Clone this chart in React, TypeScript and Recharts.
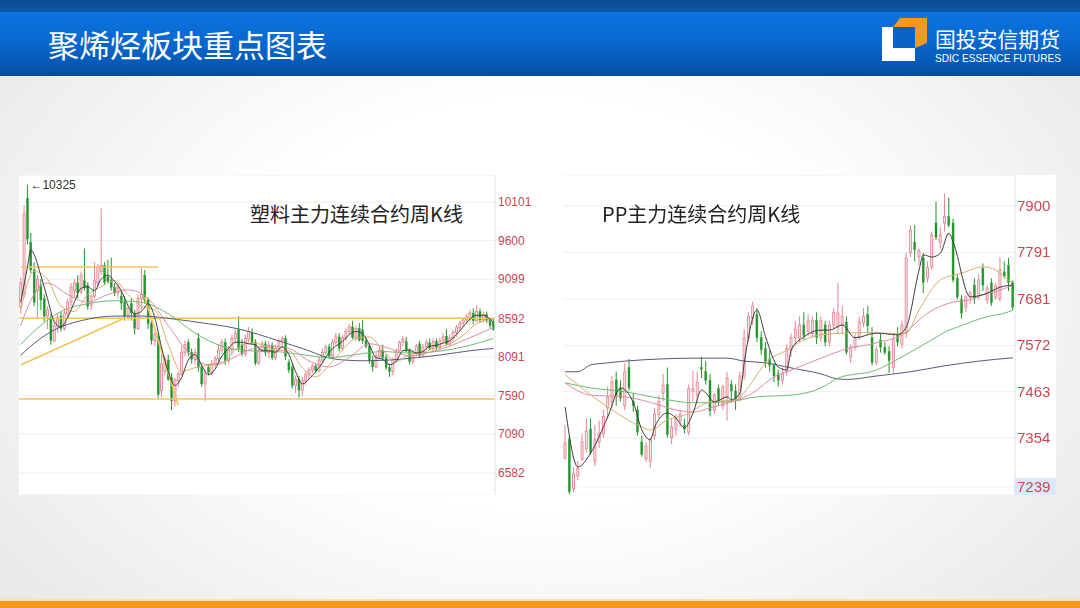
import React from "react";
import {
  Bar,
  CartesianGrid,
  ComposedChart,
  Line,
  ReferenceDot,
  ReferenceLine,
  XAxis,
  YAxis,
} from "recharts";

// [open, high, low, close]
type K = [number, number, number, number];
type Pt = [number, number];

const plasticK: K[] = [
  [8740, 9120, 8650, 9050], [8900, 10060, 8860, 9950], [10150, 10325, 9550, 9620], [9580, 9700, 9180, 9220],
  [9220, 9320, 8750, 8800], [8950, 9150, 8600, 9100], [9020, 9100, 8700, 8830], [8850, 8900, 8550, 8620],
  [8620, 8750, 8450, 8700], [8600, 8650, 8250, 8300], [8300, 8550, 8280, 8500], [8480, 8650, 8400, 8600],
  [8620, 8680, 8420, 8460], [8460, 8700, 8430, 8650], [8650, 8850, 8600, 8800], [8800, 9050, 8750, 9000],
  [8950, 9100, 8850, 9050], [9050, 9150, 8850, 8930], [8930, 9200, 8900, 9150], [9080, 9500, 8950, 8990],
  [9020, 9060, 8700, 8750], [8760, 8900, 8700, 8880], [8880, 9320, 8850, 9080], [9050, 9300, 9000, 9250],
  [9200, 10020, 9150, 9280], [9280, 9320, 9030, 9060], [9130, 9350, 9050, 9070], [9090, 9380, 8950, 8990],
  [8990, 9050, 8880, 8920], [8920, 9050, 8850, 9000], [8880, 8950, 8700, 8790], [8800, 8880, 8560, 8620],
  [8620, 8760, 8560, 8720], [8780, 8850, 8560, 8660], [8660, 8700, 8380, 8460], [8460, 8900, 8440, 8850],
  [8850, 9245, 8700, 8900], [9150, 9220, 8780, 8830], [8830, 8860, 8450, 8520], [8520, 8560, 8250, 8300],
  [8300, 8420, 8230, 8380], [8350, 8400, 7550, 7600], [7650, 8120, 7560, 8000], [7900, 8100, 7850, 8050],
  [8050, 8120, 7780, 7800], [7820, 7880, 7400, 7520], [7520, 7820, 7450, 7790], [7780, 7900, 7700, 7870],
  [7870, 8230, 7850, 8150], [8150, 8300, 8100, 8250], [8280, 8320, 8100, 8150], [8150, 8200, 8000, 8060],
  [8060, 8200, 7990, 8150], [8330, 8400, 7900, 7950], [7950, 8000, 7700, 7740], [7740, 7920, 7520, 7880],
  [7950, 8000, 7850, 7890], [7880, 8050, 7850, 8000], [7990, 8100, 7950, 8070], [8070, 8250, 8020, 8180],
  [8180, 8320, 8130, 8280], [8280, 8330, 7990, 8040], [8040, 8230, 8000, 8180], [8180, 8380, 8120, 8330],
  [8330, 8450, 8260, 8400], [8440, 8620, 8150, 8200], [8250, 8320, 8100, 8130], [8130, 8380, 8100, 8330],
  [8320, 8480, 8280, 8420], [8400, 8460, 8250, 8280], [8280, 8320, 7980, 8010], [8010, 8220, 7980, 8180],
  [8180, 8300, 8150, 8260], [8260, 8300, 8100, 8150], [8150, 8300, 8080, 8240], [8240, 8280, 8050, 8080],
  [8080, 8250, 8050, 8200], [8200, 8330, 8170, 8300], [8300, 8360, 8230, 8330], [8330, 8370, 8050, 8100],
  [8020, 8060, 7880, 7920], [7950, 8000, 7680, 7720], [7720, 7850, 7620, 7800], [7800, 7840, 7560, 7660],
  [7660, 7830, 7580, 7780], [7780, 7900, 7720, 7860], [7860, 7960, 7800, 7920], [7920, 8000, 7880, 7970],
  [7970, 8000, 7880, 7910], [7910, 8090, 7890, 8050], [8050, 8200, 8020, 8150], [8150, 8250, 8120, 8220],
  [8220, 8260, 8080, 8100], [8100, 8320, 8080, 8280], [8280, 8400, 8240, 8350], [8350, 8400, 8160, 8200],
  [8200, 8380, 8170, 8340], [8340, 8460, 8300, 8420], [8420, 8520, 8380, 8480], [8480, 8560, 8320, 8340],
  [8340, 8500, 8300, 8460], [8460, 8530, 8290, 8310], [8440, 8570, 8260, 8300], [8300, 8340, 8200, 8230],
  [8230, 8260, 8000, 8040], [8040, 8100, 7900, 7960], [7960, 8140, 7940, 8100], [8100, 8220, 8060, 8180],
  [8180, 8250, 8050, 8080], [8080, 8120, 7920, 7950], [7950, 8000, 7830, 7900], [7900, 8080, 7850, 8050],
  [8050, 8200, 8020, 8170], [8170, 8300, 8140, 8280], [8280, 8360, 8230, 8320], [8290, 8350, 8150, 8170],
  [8170, 8200, 7990, 8030], [8030, 8180, 8000, 8140], [8140, 8260, 8100, 8230], [8260, 8300, 8080, 8110],
  [8110, 8260, 8080, 8220], [8220, 8320, 8180, 8280], [8270, 8330, 8180, 8200], [8200, 8330, 8160, 8290],
  [8290, 8330, 8170, 8210], [8210, 8340, 8180, 8300], [8300, 8400, 8260, 8350], [8360, 8450, 8240, 8260],
  [8260, 8380, 8230, 8340], [8340, 8440, 8300, 8410], [8410, 8500, 8350, 8470], [8470, 8560, 8430, 8530],
  [8530, 8600, 8480, 8570], [8570, 8650, 8520, 8610], [8580, 8700, 8550, 8660], [8660, 8720, 8520, 8560],
  [8560, 8760, 8540, 8680], [8680, 8720, 8530, 8570], [8570, 8680, 8540, 8640], [8640, 8680, 8530, 8560],
  [8560, 8600, 8460, 8500], [8540, 8580, 8430, 8450],
];

const plasticTicks = [6582, 7090, 7590, 8091, 8592, 9099, 9600, 10101];

// moving averages read at sample weeks: [week index, price]
const plasticMa5: Pt[] = [
  [0, 8800], [2, 9250], [3, 9480], [4, 9420], [6, 9150], [8, 8850], [10, 8550], [12, 8480], [14, 8600],
  [16, 8800], [18, 8980], [20, 9000], [22, 8950], [24, 9100], [26, 9150], [28, 9070], [30, 8950], [32, 8760],
  [34, 8650], [36, 8680], [38, 8780], [40, 8600], [42, 8220], [44, 7900], [46, 7720], [48, 7820], [50, 8050],
  [52, 8120], [54, 7980], [56, 7860], [58, 7930], [60, 8100], [62, 8200], [64, 8280], [66, 8280], [68, 8260],
  [70, 8250], [72, 8170], [74, 8170], [76, 8150], [78, 8220], [80, 8120], [82, 7900], [84, 7740], [86, 7800],
  [88, 7900], [90, 8010], [92, 8150], [94, 8230], [96, 8290], [98, 8380], [100, 8420], [102, 8390], [104, 8250],
  [106, 8080], [108, 8060], [110, 7990], [112, 8030], [114, 8170], [116, 8180], [118, 8140], [120, 8160],
  [122, 8230], [124, 8240], [126, 8270], [128, 8300], [130, 8380], [132, 8480], [134, 8580], [136, 8630],
  [138, 8630], [140, 8580], [141, 8540],
];
const plasticMa10: Pt[] = [
  [0, 8700], [4, 9200], [8, 9100], [12, 8750], [16, 8680], [20, 8900], [24, 9000], [28, 9080], [32, 8900],
  [36, 8750], [40, 8700], [44, 8250], [48, 7900], [52, 7950], [56, 7980], [60, 8000], [64, 8180], [68, 8270],
  [72, 8250], [76, 8180], [80, 8170], [84, 7950], [88, 7830], [92, 7980], [96, 8180], [100, 8330], [104, 8350],
  [108, 8180], [112, 8030], [116, 8120], [120, 8150], [124, 8210], [128, 8260], [132, 8370], [136, 8520], [141, 8580],
];
const plasticMa20: Pt[] = [
  [0, 8500], [4, 8900], [8, 9050], [14, 8900], [20, 8800], [26, 8900], [32, 8960], [38, 8850], [44, 8500],
  [50, 8150], [56, 7990], [62, 8050], [68, 8180], [74, 8230], [80, 8200], [86, 8040], [92, 7960], [98, 8080],
  [104, 8260], [110, 8200], [116, 8100], [122, 8150], [128, 8230], [134, 8340], [141, 8470],
];
const plasticMa40: Pt[] = [
  [0, 8250], [6, 8500], [12, 8680], [20, 8780], [28, 8820], [36, 8800], [44, 8650], [52, 8400], [60, 8230],
  [68, 8170], [76, 8160], [84, 8120], [92, 8080], [100, 8120], [108, 8160], [116, 8140], [124, 8160],
  [132, 8220], [141, 8330],
];
const plasticMa60: Pt[] = [
  [0, 8110], [5, 8300], [10, 8440], [18, 8560], [28, 8620], [36, 8620], [46, 8580], [56, 8520], [62, 8480],
  [68, 8420], [74, 8340], [84, 8200], [94, 8060], [102, 8040], [110, 8050], [118, 8080], [126, 8120],
  [134, 8170], [141, 8200],
];

// hand-drawn support / resistance lines: [week, price] pairs
const plasticLines: [Pt, Pt][] = [
  [[0, 9257], [41, 9257]],
  [[0, 7984], [31, 8595]],
  [[37, 8867], [47, 7465]],
];
const plasticLevels = [8592, 7543];

const ppK: K[] = [
  [7307, 7385, 7303, 7343], [7350, 7360, 7222, 7228], [7235, 7285, 7226, 7270], [7265, 7300, 7255, 7282],
  [7305, 7365, 7300, 7345], [7330, 7400, 7320, 7370], [7375, 7400, 7315, 7320], [7300, 7385, 7288, 7350],
  [7345, 7395, 7330, 7365], [7365, 7420, 7355, 7405], [7425, 7475, 7400, 7450], [7440, 7500, 7425, 7486],
  [7491, 7510, 7430, 7455], [7470, 7490, 7440, 7448], [7430, 7530, 7420, 7510], [7520, 7540, 7465, 7472],
  [7440, 7460, 7415, 7430], [7420, 7430, 7360, 7368], [7345, 7360, 7310, 7316], [7305, 7345, 7298, 7335],
  [7300, 7355, 7284, 7350], [7360, 7425, 7350, 7410], [7410, 7455, 7400, 7440], [7460, 7505, 7440, 7478],
  [7480, 7520, 7355, 7362], [7355, 7400, 7340, 7380], [7375, 7410, 7360, 7400], [7395, 7420, 7380, 7410],
  [7385, 7400, 7365, 7375], [7368, 7480, 7360, 7470], [7465, 7512, 7440, 7470], [7455, 7510, 7440, 7485],
  [7520, 7545, 7495, 7515], [7510, 7535, 7480, 7490], [7490, 7505, 7405, 7418], [7420, 7460, 7410, 7455],
  [7470, 7480, 7430, 7440], [7430, 7480, 7420, 7475], [7450, 7510, 7395, 7495], [7480, 7490, 7440, 7465],
  [7465, 7480, 7420, 7445], [7445, 7510, 7440, 7500], [7500, 7610, 7490, 7590], [7590, 7650, 7580, 7640],
  [7635, 7675, 7620, 7665], [7645, 7660, 7580, 7590], [7590, 7605, 7550, 7562], [7565, 7580, 7520, 7535],
  [7540, 7560, 7510, 7525], [7525, 7530, 7485, 7500], [7505, 7515, 7475, 7490], [7490, 7520, 7480, 7505],
  [7510, 7575, 7500, 7565], [7560, 7600, 7545, 7590], [7590, 7630, 7575, 7610], [7590, 7640, 7580, 7620],
  [7620, 7650, 7585, 7595], [7605, 7645, 7595, 7630], [7600, 7640, 7590, 7630], [7630, 7650, 7575, 7590],
  [7590, 7640, 7580, 7630], [7620, 7630, 7570, 7580], [7580, 7630, 7570, 7620], [7620, 7660, 7610, 7650],
  [7615, 7719, 7600, 7648], [7620, 7665, 7600, 7640], [7627, 7640, 7550, 7556], [7545, 7575, 7530, 7568],
  [7568, 7600, 7560, 7590], [7592, 7640, 7585, 7627], [7625, 7660, 7615, 7640], [7645, 7665, 7600, 7618],
  [7590, 7615, 7525, 7532], [7532, 7570, 7525, 7562], [7585, 7600, 7555, 7568], [7568, 7580, 7550, 7555],
  [7558, 7570, 7507, 7536], [7521, 7600, 7505, 7585], [7595, 7615, 7570, 7580], [7575, 7630, 7565, 7620],
  [7601, 7790, 7590, 7778], [7790, 7855, 7780, 7843], [7815, 7855, 7770, 7797], [7780, 7800, 7760, 7795],
  [7778, 7790, 7695, 7720], [7730, 7770, 7720, 7755], [7757, 7840, 7750, 7832], [7860, 7910, 7820, 7827],
  [7815, 7850, 7800, 7832], [7860, 7930, 7840, 7875], [7875, 7920, 7850, 7855], [7860, 7870, 7720, 7726],
  [7730, 7740, 7680, 7686], [7680, 7690, 7635, 7648], [7662, 7690, 7650, 7686], [7686, 7700, 7670, 7695],
  [7714, 7730, 7670, 7683], [7690, 7740, 7680, 7726], [7754, 7765, 7700, 7714], [7679, 7715, 7670, 7707],
  [7719, 7730, 7665, 7672], [7686, 7720, 7680, 7712], [7682, 7780, 7675, 7750], [7745, 7770, 7730, 7735],
  [7760, 7778, 7700, 7720], [7720, 7725, 7655, 7662],
];

const ppTicks = [7239, 7354, 7463, 7572, 7681, 7791, 7900];

const ppMa5: Pt[] = [
  [0, 7427], [3, 7286], [6, 7319], [10, 7404], [13, 7472], [16, 7437], [18, 7373], [20, 7350], [21, 7380],
  [24, 7413], [26, 7401], [28, 7378], [30, 7413], [32, 7467], [33, 7460], [35, 7439], [38, 7451], [39, 7444],
  [41, 7460], [42, 7531], [45, 7655], [47, 7592], [50, 7521], [52, 7514], [53, 7561], [56, 7592], [60, 7608],
  [62, 7608], [65, 7620], [68, 7590], [73, 7601], [78, 7597], [80, 7615], [83, 7749], [84, 7785], [86, 7780],
  [88, 7789], [90, 7836], [91, 7815], [95, 7686], [99, 7695], [102, 7709], [105, 7714],
];
const ppMa10: Pt[] = [
  [0, 7503], [10, 7427], [18, 7380], [20, 7373], [24, 7397], [28, 7408], [34, 7439], [40, 7444], [43, 7474],
  [47, 7531], [52, 7561], [56, 7585], [60, 7597], [70, 7602], [78, 7600], [80, 7601], [83, 7655], [88, 7726],
  [93, 7742], [98, 7757], [101, 7749], [104, 7726], [105, 7720],
];
const ppMa20: Pt[] = [
  [0, 7484], [6, 7455], [14, 7451], [22, 7432], [26, 7420], [30, 7415], [34, 7425], [39, 7439], [44, 7460],
  [49, 7498], [53, 7514], [60, 7542], [65, 7561], [73, 7578], [79, 7597], [85, 7648], [91, 7674], [95, 7679],
  [98, 7691], [102, 7702], [105, 7714],
];
const ppMa40: Pt[] = [
  [0, 7484], [6, 7472], [14, 7463], [22, 7448], [30, 7437], [38, 7439], [45, 7451], [53, 7455], [60, 7472],
  [64, 7495], [73, 7514], [79, 7545], [86, 7585], [90, 7608], [92, 7615], [98, 7637], [104, 7651], [105, 7655],
];
const ppMa60: Pt[] = [
  [0, 7510], [3, 7510], [6, 7526], [10, 7531], [14, 7535], [22, 7540], [30, 7542], [38, 7542], [42, 7535],
  [47, 7531], [53, 7519], [60, 7505], [64, 7493], [66, 7492], [73, 7500], [81, 7510], [89, 7524], [97, 7535],
  [105, 7543],
];

const UP = "#e58592";
const UP_FILL = "#fde9ed";
const DOWN = "#22952c";
const TICK_RED = "#c9474f";
const MA_COLORS = {
  ma5: "#3d3d3d",
  ma10: "#d9ae6c",
  ma20: "#e08aa8",
  ma40: "#6dbd70",
  ma60: "#55597c",
};

function buildRows(k: K[], mas: Record<string, Pt[]>) {
  return k.map(([o, h, l, c], i) => {
    const row: any = { i, o, h, l, c, range: [l, h] };
    for (const key of Object.keys(mas)) {
      const p = mas[key].find((d) => d[0] === i);
      row[key] = p ? p[1] : null;
    }
    return row;
  });
}

const Candle = (props: any) => {
  const { x, width, payload } = props;
  let { y, height } = props;
  if (!payload || height == null) return <g />;
  if (height < 0) {
    y += height;
    height = -height;
  }
  const { o, h, l, c } = payload;
  const ratio = height / Math.max(h - l, 1);
  const py = (v: number) => y + (h - v) * ratio;
  const up = c >= o;
  const cx = x + width / 2;
  const top = py(Math.max(o, c));
  const bot = py(Math.min(o, c));
  const color = up ? UP : DOWN;
  return (
    <g>
      <line x1={cx} x2={cx} y1={y} y2={top} stroke={color} strokeWidth={1} />
      <line x1={cx} x2={cx} y1={bot} y2={y + height} stroke={color} strokeWidth={1} />
      <rect
        x={x}
        y={top}
        width={width}
        height={Math.max(bot - top, 1)}
        fill={up ? UP_FILL : DOWN}
        stroke={color}
        strokeWidth={up ? 0.9 : 0.4}
      />
    </g>
  );
};

const maLines = (keys: string[]) =>
  keys.map((key) => (
    <Line
      key={key}
      dataKey={key}
      type="monotone"
      stroke={(MA_COLORS as any)[key]}
      strokeWidth={1}
      dot={false}
      connectNulls
      isAnimationActive={false}
    />
  ));

const PpTick = (props: any) => {
  const { x, y, payload } = props;
  const low = payload.value === ppTicks[0];
  return (
    <g>
      {low && <rect x={x - 1} y={y - 9} width={42} height={17} fill="#dce8f7" />}
      <text
        x={x + 2}
        y={y}
        dy={5}
        fill={TICK_RED}
        fontSize={15}
        fontFamily="'Liberation Sans', Arial, sans-serif"
      >
        {payload.value}
      </text>
    </g>
  );
};

function PlasticChart() {
  const rows = buildRows(plasticK, {
    ma5: plasticMa5,
    ma10: plasticMa10,
    ma20: plasticMa20,
    ma40: plasticMa40,
    ma60: plasticMa60,
  });
  return (
    <ComposedChart
      width={521}
      height={320}
      data={rows}
      margin={{ top: 0, right: 0, bottom: 0, left: 0 }}
      barCategoryGap="22%"
    >
      <CartesianGrid vertical={false} stroke="#eeeeee" />
      <XAxis dataKey="i" type="category" hide />
      <YAxis
        orientation="right"
        type="number"
        domain={[6297, 10452]}
        allowDataOverflow
        ticks={plasticTicks}
        interval={0}
        width={45}
        tickLine={false}
        tickSize={0}
        tickMargin={3}
        axisLine={{ stroke: "#e2e2e2" }}
        tick={{ fill: TICK_RED, fontSize: 12, fontFamily: "'Liberation Sans', Arial, sans-serif" }}
      />
      {plasticLevels.map((v) => (
        <ReferenceLine key={v} y={v} stroke="#f2c458" strokeWidth={1.6} />
      ))}
      {plasticLines.map(([a, b], n) => (
        <ReferenceLine
          key={n}
          segment={[
            { x: a[0], y: a[1] },
            { x: b[0], y: b[1] },
          ]}
          stroke="#f2c458"
          strokeWidth={1.6}
        />
      ))}
      {maLines(["ma60", "ma40", "ma20", "ma10", "ma5"])}
      <Bar dataKey="range" shape={Candle} isAnimationActive={false} />
      <ReferenceDot
        x={2}
        y={10325}
        r={0}
        label={{
          value: "←10325",
          position: "right",
          offset: 3,
          fill: "#333",
          fontSize: 12,
          fontFamily: "'Liberation Sans', Arial, sans-serif",
        }}
      />
    </ComposedChart>
  );
}

function PpChart() {
  const rows = buildRows(ppK, {
    ma5: ppMa5,
    ma10: ppMa10,
    ma20: ppMa20,
    ma40: ppMa40,
    ma60: ppMa60,
  });
  return (
    <ComposedChart
      width={493}
      height={320}
      data={rows}
      margin={{ top: 0, right: 0, bottom: 0, left: 0 }}
      barCategoryGap="24%"
    >
      <CartesianGrid vertical={false} stroke="#eeeeee" />
      <XAxis dataKey="i" type="category" hide />
      <YAxis
        orientation="right"
        type="number"
        domain={[7220, 7973]}
        allowDataOverflow
        ticks={ppTicks}
        interval={0}
        width={41}
        tickLine={false}
        tickSize={0}
        tickMargin={0}
        axisLine={{ stroke: "#e2e2e2" }}
        tick={<PpTick />}
      />
      {maLines(["ma60", "ma40", "ma20", "ma10", "ma5"])}
      <Bar dataKey="range" shape={Candle} isAnimationActive={false} />
    </ComposedChart>
  );
}

const cjk = "'Noto Sans CJK SC', 'Noto Sans', sans-serif";

export default function App() {
  return (
    <div
      style={{
        position: "fixed",
        left: 0,
        top: 0,
        width: 1080,
        height: 608,
        overflow: "hidden",
        background: "radial-gradient(ellipse 62% 75% at 50% 50%, #ffffff 45%, #e9e9e9 100%)",
        fontFamily: cjk,
      }}
    >
      <div style={{ position: "absolute", left: 0, top: 0, width: 1080, height: 12, background: "linear-gradient(#0a4b92, #0d58a8)" }} />
      <div
        style={{
          position: "absolute",
          left: 0,
          top: 12,
          width: 1080,
          height: 64,
          background: "linear-gradient(#0b74e0, #0868d0 45%, #0556ae 90%, #064a96)",
        }}
      />
      <div style={{ position: "absolute", left: 48, top: 25, color: "#fff", fontSize: 31, lineHeight: "38px", whiteSpace: "nowrap" }}>
        聚烯烃板块重点图表
      </div>
      <svg style={{ position: "absolute", left: 860, top: 0, overflow: "visible" }} width={220} height={76}>
        <g transform="translate(-860,0)">
          <polygon points="882,27 893,27 893,48 915,48 915,61 882,61" fill="#ffffff" />
          <polygon points="893,27 900,18 927,18 927,43 915,48 915,27" fill="#f39a1e" />
          <polygon points="893,27 915,27 915,48 893,48" fill="#0a62c2" />
          <text x={935} y={47} fill="#fff" fontSize={21} fontFamily={cjk} textLength={125} lengthAdjust="spacingAndGlyphs">
            国投安信期货
          </text>
          <text
            x={935}
            y={62}
            fill="#fff"
            fontSize={11.5}
            fontFamily="'Liberation Sans', Arial, sans-serif"
            textLength={126}
            lengthAdjust="spacingAndGlyphs"
          >
            SDIC ESSENCE FUTURES
          </text>
        </g>
      </svg>

      <div style={{ position: "absolute", left: 19, top: 175, width: 521, height: 320, background: "#fff" }}>
        <PlasticChart />
      </div>
      <div style={{ position: "absolute", left: 250, top: 202, fontSize: 20, lineHeight: "24px", color: "#222", whiteSpace: "nowrap" }}>
        塑料主力连续合约周K线
      </div>

      <div style={{ position: "absolute", left: 563, top: 175, width: 493, height: 320, background: "#fff" }}>
        <PpChart />
      </div>
      <div style={{ position: "absolute", left: 602, top: 202, fontSize: 20, lineHeight: "24px", color: "#222", whiteSpace: "nowrap" }}>
        PP主力连续合约周K线
      </div>

      <div style={{ position: "absolute", left: 0, top: 599, width: 1080, height: 2, background: "#fbe2a6" }} />
      <div style={{ position: "absolute", left: 0, top: 601, width: 1080, height: 7, background: "#f4971e" }} />
    </div>
  );
}
